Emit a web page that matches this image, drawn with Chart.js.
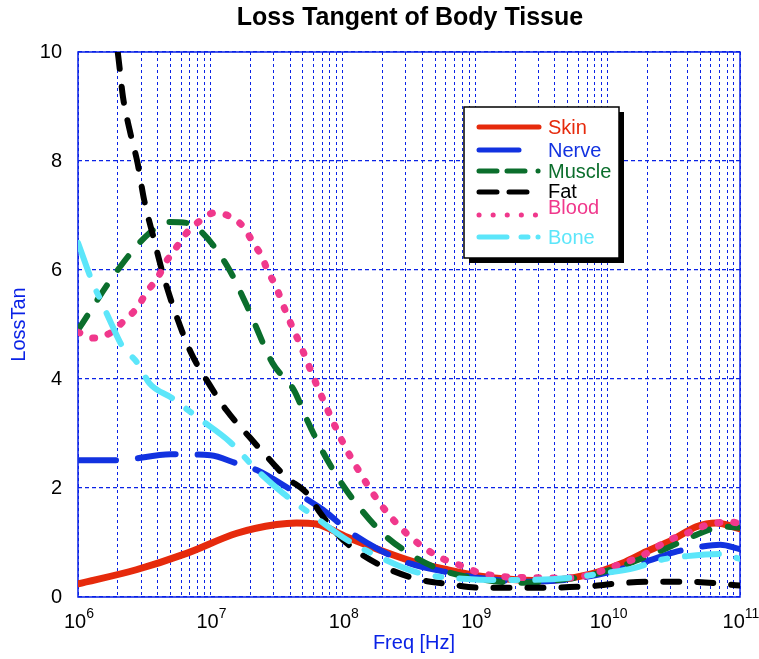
<!DOCTYPE html>
<html>
<head>
<meta charset="utf-8">
<script src="https://cdn.jsdelivr.net/npm/chart.js@4.4.0/dist/chart.umd.min.js"></script>
<style>
  html, body { margin: 0; padding: 0; background: #fff; }
  #wrap { width: 759px; height: 659px; position: relative; }
</style>
</head>
<body>
<div id="wrap"><canvas id="c"></canvas></div>
<script>
// frequencies are kept as log10(Hz), values are the loss tangent
const skinF   = [6.0, 6.44, 6.82, 7.2, 7.5, 7.65, 7.8, 8.03, 8.28, 8.53, 8.79, 9.04, 9.19, 9.5, 9.87, 10.11, 10.29, 10.49, 10.67, 10.82, 11.0];
const skinV   = [0.24, 0.5, 0.8, 1.17, 1.33, 1.36, 1.34, 1.1, 0.86, 0.65, 0.5, 0.38, 0.34, 0.3, 0.42, 0.62, 0.83, 1.05, 1.29, 1.36, 1.25];

const nerveF  = [6.0, 6.3, 6.7, 7.0, 7.2, 7.35, 7.6, 7.85, 8.05, 8.28, 8.5, 8.8, 9.1, 9.4, 9.7, 10.0, 10.3, 10.5, 10.7, 10.85, 11.0];
const nerveV  = [2.51, 2.51, 2.62, 2.6, 2.45, 2.33, 1.98, 1.6, 1.2, 0.86, 0.62, 0.45, 0.33, 0.28, 0.32, 0.45, 0.66, 0.82, 0.92, 0.96, 0.88];

const muscleF = [6.0, 6.3, 6.54, 6.69, 6.83, 6.94, 7.13, 7.28, 7.47, 7.63, 7.73, 7.83, 7.96, 8.1, 8.3, 8.5, 8.71, 8.94, 9.36, 9.62, 9.87, 10.12, 10.27, 10.45, 10.67, 10.87, 11.0];
const muscleV = [4.9, 6.0, 6.68, 6.88, 6.86, 6.68, 6.06, 5.32, 4.29, 3.8, 3.25, 2.75, 2.2, 1.72, 1.17, 0.8, 0.53, 0.37, 0.26, 0.31, 0.4, 0.58, 0.72, 0.9, 1.14, 1.29, 1.27];

const fatF    = [6.26, 6.3, 6.34, 6.39, 6.45, 6.5, 6.57, 6.64, 6.72, 6.85, 7.0, 7.12, 7.3, 7.47, 7.57, 7.73, 7.83, 7.98, 8.13, 8.33, 8.56, 8.79, 9.04, 9.5, 9.87, 10.12, 10.37, 10.62, 11.0];
const fatV    = [10.6, 10.0, 9.17, 8.57, 7.96, 7.28, 6.6, 5.94, 5.32, 4.5, 3.87, 3.43, 2.92, 2.46, 2.2, 1.9, 1.54, 1.1, 0.8, 0.53, 0.33, 0.24, 0.17, 0.17, 0.2, 0.26, 0.28, 0.28, 0.21];

const bloodF  = [6.0, 6.11, 6.24, 6.34, 6.45, 6.52, 6.6, 6.66, 6.73, 6.82, 6.92, 7.03, 7.13, 7.25, 7.32, 7.39, 7.43, 7.49, 7.58, 7.68, 7.81, 8.01, 8.13, 8.28, 8.48, 8.7, 8.92, 9.04, 9.3, 9.7, 10.14, 10.27, 10.47, 10.6, 10.7, 10.83, 10.92, 11.0];
const bloodV  = [4.86, 4.75, 4.84, 5.05, 5.32, 5.6, 5.85, 6.13, 6.37, 6.68, 6.9, 7.05, 7.0, 6.79, 6.51, 6.24, 6.0, 5.72, 5.17, 4.62, 3.85, 2.79, 2.28, 1.72, 1.17, 0.77, 0.55, 0.44, 0.36, 0.35, 0.64, 0.77, 1.05, 1.17, 1.28, 1.36, 1.38, 1.35];

const boneF   = [6.0, 6.11, 6.18, 6.24, 6.33, 6.45, 6.54, 6.71, 6.9, 7.15, 7.35, 7.55, 7.8, 8.03, 8.28, 8.58, 8.94, 9.3, 9.7, 9.98, 10.2, 10.4, 10.6, 10.85, 11.0];
const boneV   = [6.5, 5.77, 5.4, 5.08, 4.62, 4.29, 3.92, 3.65, 3.3, 2.84, 2.33, 1.9, 1.45, 1.05, 0.73, 0.44, 0.33, 0.31, 0.35, 0.44, 0.53, 0.68, 0.75, 0.79, 0.7];

const decades = [6, 7, 8, 9, 10, 11];
const yTicks  = [0, 2, 4, 6, 8, 10];
const names   = ['Skin', 'Nerve', 'Muscle', 'Fat', 'Blood', 'Bone'];

const colors = {
  Skin: '#e62a0c', Nerve: '#1232e0', Muscle: '#0b6e2c',
  Fat: '#000000', Blood: '#f0388c', Bone: '#5ce6fa'
};
const gridBlue = '#0a22e6';
const FONT = '"Liberation Sans", Arial, Helvetica, sans-serif';

function pts(f, v){ return f.map((e, i) => ({ x: Math.pow(10, e), y: v[i] })); }

function ds(label, f, v, dash, order, width){
  return {
    label, data: pts(f, v), borderColor: colors[label], backgroundColor: colors[label],
    borderWidth: width || 6, borderDash: dash, borderCapStyle: 'round', borderJoinStyle: 'round',
    pointRadius: 0, fill: false, cubicInterpolationMode: 'monotone', order
  };
}

const datasets = [
  ds('Skin',   skinF,   skinV,   [],              6, 7),
  ds('Nerve',  nerveF,  nerveV,  [38, 22],        5),
  ds('Muscle', muscleF, muscleV, [17, 19],        4),
  ds('Fat',    fatF,    fatV,    [16, 18],        3),
  ds('Blood',  bloodF,  bloodV,  [2, 14],         2, 7),
  ds('Bone',   boneF,   boneV,   [34, 18, 6, 18], 1)
];

// title, axis titles, x labels, frame, legend box
const decor = {
  id: 'decor',
  beforeDatasetsDraw(chart){
    const { ctx, chartArea: a } = chart;
    ctx.save();
    ctx.strokeStyle = gridBlue;
    ctx.lineWidth = 1.5;
    ctx.strokeRect(a.left, a.top, a.right - a.left, a.bottom - a.top);
    ctx.restore();
  },
  afterDraw(chart){
    const { ctx, chartArea: a } = chart;
    const xs = chart.scales.x;
    ctx.save();

    // title
    ctx.fillStyle = '#000';
    ctx.font = 'bold 25px ' + FONT;
    ctx.textAlign = 'center';
    ctx.textBaseline = 'middle';
    ctx.fillText('Loss Tangent of Body Tissue', 410, 18);

    // x tick labels 10^n
    decades.forEach(d => {
      const px = xs.getPixelForValue(Math.pow(10, d));
      ctx.font = '20px ' + FONT;
      const w1 = ctx.measureText('10').width;
      ctx.font = '14px ' + FONT;
      const w2 = ctx.measureText(String(d)).width;
      const x0 = px - (w1 + w2) / 2 + 1;
      ctx.textAlign = 'left';
      ctx.textBaseline = 'alphabetic';
      ctx.fillStyle = '#000';
      ctx.font = '20px ' + FONT;
      ctx.fillText('10', x0, 628);
      ctx.font = '14px ' + FONT;
      ctx.fillText(String(d), x0 + w1, 618);
    });

    // axis titles
    ctx.fillStyle = gridBlue;
    ctx.font = '20px ' + FONT;
    ctx.textAlign = 'center';
    ctx.textBaseline = 'middle';
    ctx.fillText('Freq [Hz]', 414, 643);
    ctx.save();
    ctx.translate(19, (a.top + a.bottom) / 2);
    ctx.rotate(-Math.PI / 2);
    ctx.fillText('LossTan', 0, 0);
    ctx.restore();

    // legend box with drop shadow
    const bx = 464, by = 107, bw = 155, bh = 151;
    ctx.fillStyle = '#000';
    ctx.fillRect(bx + 5, by + 5, bw, bh);
    ctx.fillStyle = '#fff';
    ctx.fillRect(bx, by, bw, bh);
    ctx.strokeStyle = '#000';
    ctx.lineWidth = 1.5;
    ctx.strokeRect(bx, by, bw, bh);

    const rows = [
      { y: 127, ty: 127, dash: [] },
      { y: 150, ty: 150, dash: [40, 21, 0.1, 50] },
      { y: 171, ty: 171, dash: [18, 10, 18, 13, 0.1, 50] },
      { y: 192, ty: 191, dash: [18, 12, 18, 13, 0.1, 50] },
      { y: 215, ty: 207, dash: [0.1, 14] },
      { y: 237, ty: 237, dash: [28, 14, 7, 10, 0.1, 50] }
    ];
    ctx.lineCap = 'round';
    ctx.lineWidth = 5;
    ctx.textAlign = 'left';
    ctx.textBaseline = 'middle';
    ctx.font = '20px ' + FONT;
    names.forEach((n, i) => {
      const r = rows[i];
      ctx.strokeStyle = colors[n];
      ctx.setLineDash(r.dash);
      ctx.beginPath();
      ctx.moveTo(479, r.y);
      ctx.lineTo(539, r.y);
      ctx.stroke();
      ctx.setLineDash([]);
      ctx.fillStyle = colors[n];
      ctx.fillText(n, 548, r.ty + 1);
    });
    ctx.restore();
  }
};

const xTickVals = [];
for (let e = 6; e <= 10; e++) for (let m = 1; m <= 9; m++) xTickVals.push(m * Math.pow(10, e));
xTickVals.push(1e11);

new Chart(document.getElementById('c'), {
  type: 'line',
  data: { datasets },
  plugins: [decor],
  options: {
    responsive: true,
    maintainAspectRatio: false,
    animation: false,
    layout: { padding: { top: 52, right: 19, left: 0, bottom: 0 } },
    plugins: { legend: { display: false }, title: { display: false }, tooltip: { enabled: false } },
    scales: {
      x: {
        type: 'logarithmic', min: 1e6, max: 1e11,
        afterBuildTicks: s => { s.ticks = xTickVals.map(v => ({ value: v })); },
        afterFit: s => { s.height = 62; },
        ticks: { display: false },
        grid: { color: gridBlue, lineWidth: 1, drawTicks: false },
        border: { display: false, dash: [3, 3] }
      },
      y: {
        min: 0, max: 10,
        afterBuildTicks: s => { s.ticks = yTicks.map(v => ({ value: v })); },
        afterFit: s => { s.width = 78; },
        ticks: { color: '#000', font: { family: FONT, size: 20 }, padding: 16 },
        grid: { color: gridBlue, lineWidth: 1.3, drawTicks: false },
        border: { display: false, dash: [4, 3] }
      }
    }
  }
});
</script>
</body>
</html>
